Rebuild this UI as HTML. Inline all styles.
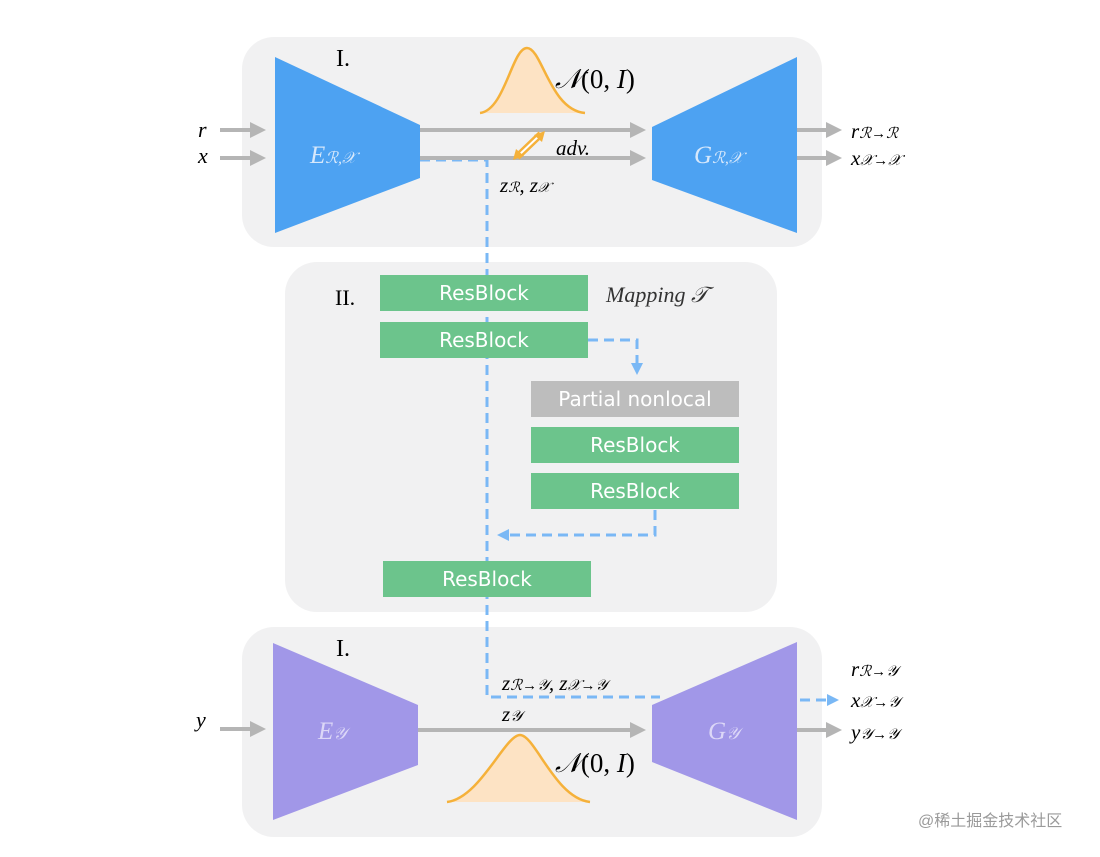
<!DOCTYPE html>
<html><head><meta charset="utf-8"><style>
body{margin:0;background:#fff;width:1100px;height:852px;overflow:hidden}
svg text{font-family:"Liberation Serif",serif}
.m{font-style:italic}
.rb{font-family:"DejaVu Sans","Liberation Sans",sans-serif;font-size:20px;fill:#fff}
</style></head><body>
<svg width="1100" height="852" viewBox="0 0 1100 852" xmlns="http://www.w3.org/2000/svg">
<defs>
<marker id="ga" markerWidth="4" markerHeight="4" refX="3" refY="2" orient="auto" markerUnits="strokeWidth"><path d="M0,0 L4,2 L0,4z" fill="#b5b5b5"/></marker>
<marker id="ba" markerWidth="4" markerHeight="4" refX="3" refY="2" orient="auto" markerUnits="strokeWidth"><path d="M0,0 L4,2 L0,4z" fill="#7ab8f5"/></marker>
</defs>
<rect x="242" y="37" width="580" height="210" rx="32" fill="#f1f1f2"/>
<rect x="285" y="262" width="492" height="350" rx="32" fill="#f1f1f2"/>
<rect x="242" y="627" width="580" height="210" rx="32" fill="#f1f1f2"/>

<g stroke="#7ab8f5" stroke-width="3" fill="none" stroke-dasharray="10,6">
<path d="M420,160 L487,160 L487,697 L660,697"/>
<path d="M588,340 L637,340 L637,372" marker-end="url(#ba)"/>
<path d="M655,510 L655,535 L500,535" marker-end="url(#ba)"/>
<path d="M800,700 L836,700" marker-end="url(#ba)"/>
</g>

<!-- top -->
<text x="336" y="66" font-size="24">I.</text>
<path d="M480,113 C505,110 512,48 527,48 C542,48 550,110 585,113 Z" fill="#fde3c4"/>
<path d="M480,113 C505,110 512,48 527,48 C542,48 550,110 585,113" fill="none" stroke="#f5b13a" stroke-width="2.5"/>
<text x="555" y="88" font-size="27" class="m">𝒩<tspan font-style="normal">(0, </tspan>I<tspan font-style="normal">)</tspan></text>
<g stroke="#b5b5b5" stroke-width="4" fill="none">
<line x1="220" y1="130" x2="262" y2="130" marker-end="url(#ga)"/>
<line x1="220" y1="158" x2="262" y2="158" marker-end="url(#ga)"/>
<line x1="420" y1="130" x2="642" y2="130" marker-end="url(#ga)"/>
<line x1="420" y1="158" x2="642" y2="158" marker-end="url(#ga)"/>
<line x1="797" y1="130" x2="838" y2="130" marker-end="url(#ga)"/>
<line x1="797" y1="158" x2="838" y2="158" marker-end="url(#ga)"/>
<line x1="418" y1="730" x2="642" y2="730" marker-end="url(#ga)"/>
<line x1="220" y1="729" x2="262" y2="729" marker-end="url(#ga)"/>
<line x1="797" y1="730" x2="838" y2="730" marker-end="url(#ga)"/>
</g>
<text x="198" y="137" font-size="22" class="m">r</text>
<text x="198" y="163" font-size="22" class="m">x</text>
<polygon points="275,57 420,125 420,178 275,233" fill="#4da2f2"/>
<polygon points="652,127 797,57 797,233 652,180" fill="#4da2f2"/>
<text x="310" y="163" font-size="25" class="m" fill="#d7e8fb">E<tspan font-size="16">ℛ,𝒳</tspan></text>
<text x="694" y="163" font-size="25" class="m" fill="#d7e8fb">G<tspan font-size="16">ℛ,𝒳</tspan></text>
<line x1="517" y1="157" x2="541" y2="134" stroke="#f5b13a" stroke-width="7"/>
<line x1="519" y1="155" x2="539" y2="136" stroke="#fff" stroke-width="2"/>
<polygon points="513,160 516,149 524,156" fill="#f5b13a"/>
<polygon points="545,131 542,142 534,135" fill="#f5b13a"/>
<text x="556" y="155" font-size="21" class="m">adv.</text>
<text x="500" y="192" font-size="21" class="m">z<tspan font-size="14">ℛ</tspan>, z<tspan font-size="14">𝒳</tspan></text>
<text x="851" y="138" font-size="21" class="m">r<tspan font-size="15">ℛ→ℛ</tspan></text>
<text x="851" y="165" font-size="21" class="m">x<tspan font-size="15">𝒳→𝒳</tspan></text>

<!-- middle -->
<text x="335" y="305" font-size="22">II.</text>
<text x="606" y="302" font-size="22" font-style="italic" font-family="DejaVu Sans,sans-serif" fill="#333">Mapping <tspan font-family="Liberation Serif">𝒯</tspan></text>
<rect x="380" y="275" width="208" height="36" fill="#6cc48c"/>
<rect x="380" y="322" width="208" height="36" fill="#6cc48c"/>
<rect x="531" y="381" width="208" height="36" fill="#bdbdbd"/>
<rect x="531" y="427" width="208" height="36" fill="#6cc48c"/>
<rect x="531" y="473" width="208" height="36" fill="#6cc48c"/>
<rect x="383" y="561" width="208" height="36" fill="#6cc48c"/>
<text x="484" y="300" class="rb" text-anchor="middle">ResBlock</text>
<text x="484" y="347" class="rb" text-anchor="middle">ResBlock</text>
<text x="635" y="406" class="rb" text-anchor="middle">Partial nonlocal</text>
<text x="635" y="452" class="rb" text-anchor="middle">ResBlock</text>
<text x="635" y="498" class="rb" text-anchor="middle">ResBlock</text>
<text x="487" y="586" class="rb" text-anchor="middle">ResBlock</text>

<!-- bottom -->
<text x="336" y="656" font-size="24">I.</text>
<path d="M447,802 C480,798 505,735 520,735 C535,735 555,798 590,802 Z" fill="#fde3c4"/>
<path d="M447,802 C480,798 505,735 520,735 C535,735 555,798 590,802" fill="none" stroke="#f5b13a" stroke-width="2.5"/>
<text x="555" y="772" font-size="27" class="m">𝒩<tspan font-style="normal">(0, </tspan>I<tspan font-style="normal">)</tspan></text>
<text x="196" y="727" font-size="22" class="m">y</text>
<polygon points="273,643 418,705 418,765 273,820" fill="#a197e8"/>
<polygon points="652,705 797,642 797,820 652,762" fill="#a197e8"/>
<text x="318" y="739" font-size="25" class="m" fill="#dcd7f7">E<tspan font-size="17">𝒴</tspan></text>
<text x="708" y="739" font-size="25" class="m" fill="#dcd7f7">G<tspan font-size="17">𝒴</tspan></text>
<text x="502" y="690" font-size="21" class="m">z<tspan font-size="15">ℛ→𝒴</tspan>, z<tspan font-size="15">𝒳→𝒴</tspan></text>
<text x="502" y="721" font-size="21" class="m">z<tspan font-size="15">𝒴</tspan></text>
<text x="851" y="676" font-size="21" class="m">r<tspan font-size="15">ℛ→𝒴</tspan></text>
<text x="851" y="707" font-size="21" class="m">x<tspan font-size="15">𝒳→𝒴</tspan></text>
<text x="851" y="739" font-size="21" class="m">y<tspan font-size="15">𝒴→𝒴</tspan></text>
<text x="918" y="826" font-size="16" fill="#9a9a9a" style="font-family:'Liberation Sans','Noto Sans CJK SC',sans-serif">@稀土掘金技术社区</text>
</svg>
</body></html>
